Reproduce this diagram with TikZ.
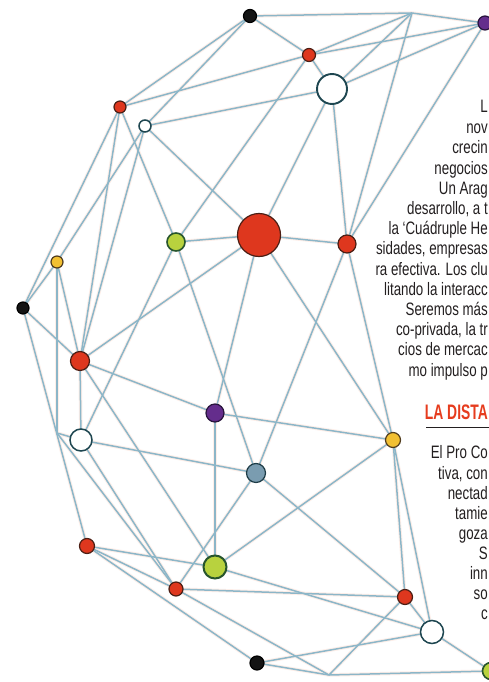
\documentclass[tikz,border=0pt]{standalone}
\usepackage{fontspec}
\newfontfamily\bodyfont{Liberation Sans}[FakeStretch=0.74]
\newfontfamily\headfont{Liberation Sans}[FakeStretch=0.66]
\pgfdeclarelayer{back}
\pgfdeclarelayer{bg}
\pgfsetlayers{back,bg,main}
\definecolor{edgecol}{RGB}{140,182,200}
\definecolor{halocol}{RGB}{253,238,232}
\definecolor{redfill}{RGB}{222,55,30}
\definecolor{redline}{RGB}{75,30,20}
\definecolor{grnfill}{RGB}{184,210,62}
\definecolor{grnline}{RGB}{40,85,45}
\definecolor{yelfill}{RGB}{242,192,50}
\definecolor{yelline}{RGB}{80,60,30}
\definecolor{purfill}{RGB}{100,45,140}
\definecolor{purline}{RGB}{40,20,60}
\definecolor{blufill}{RGB}{122,156,176}
\definecolor{bluline}{RGB}{30,60,70}
\definecolor{whtline}{RGB}{30,70,80}
\definecolor{txtcol}{RGB}{35,31,32}
\definecolor{headcol}{RGB}{230,60,30}
\tikzset{
  dot/.style={circle, inner sep=0pt, outer sep=0pt, line width=1.2pt},
  nred/.style={dot, fill=redfill, draw=redline},
  ngrn/.style={dot, fill=grnfill, draw=grnline, line width=1.6pt},
  nyel/.style={dot, fill=yelfill, draw=yelline},
  npur/.style={dot, fill=purfill, draw=purline},
  nblu/.style={dot, fill=blufill, draw=bluline},
  nwht/.style={dot, fill=white, draw=whtline, line width=1.5pt},
  nblk/.style={dot, fill=black!92, draw=black},
  edge/.style={draw=edgecol, line width=1.5pt},
  halo/.style={draw=halocol, line width=3.5pt},
  txt/.style={anchor=base east, inner sep=0pt, text=txtcol, font=\bodyfont\fontsize{18}{20}\selectfont},
  head/.style={anchor=base east, inner sep=0pt, text=headcol, font=\headfont\bfseries\fontsize{21}{22}\selectfont}
}
\begin{document}
\begin{tikzpicture}[x=1pt,y=-1pt]
\useasboundingbox (0,0) rectangle (489,682);
\begin{pgfonlayer}{back}
\fill[white] (0,0) rectangle (489,682);
\end{pgfonlayer}
% nodes
\node[nblk, minimum size=13pt] (n1) at (250,16) {};
\node[npur, minimum size=14pt] (n2) at (485,23) {};
\node[nred, minimum size=13pt] (n3) at (309,55) {};
\node[nwht, minimum size=30pt, line width=1.9pt] (n4) at (332,89) {};
\node[nred, minimum size=12pt] (n5) at (120,107) {};
\node[nwht, minimum size=12pt] (n6) at (145,126) {};
\node[nred, minimum size=43pt] (n7) at (259,235) {};
\node[ngrn, minimum size=18pt] (n8) at (176,242) {};
\node[nred, minimum size=18pt] (n9) at (347,244) {};
\node[nyel, minimum size=12pt] (n10) at (57,262) {};
\node[nblk, minimum size=12pt] (n11) at (23,308) {};
\node[nred, minimum size=19pt] (n12) at (80,361) {};
\node[npur, minimum size=18pt] (n13) at (215,413) {};
\node[nwht, minimum size=22pt] (n14) at (81,440) {};
\node[nyel, minimum size=15pt] (n15) at (393,440) {};
\node[nblu, minimum size=19pt] (n16) at (256,473) {};
\node[nred, minimum size=15pt] (n17) at (87,546) {};
\node[ngrn, minimum size=23pt, line width=2pt] (n18) at (215,567) {};
\node[nred, minimum size=14pt] (n19) at (176,589) {};
\node[nred, minimum size=15pt] (n20) at (405,597) {};
\node[nwht, minimum size=23pt] (n21) at (432,632) {};
\node[nblk, minimum size=14pt] (n22) at (257,663) {};
\node[ngrn, minimum size=17pt] (n23) at (491,671) {};
\coordinate (j1) at (412,13);
\coordinate (j2) at (329,675);
\coordinate (j3) at (57,433);
% connectors
\def\edgelist{n1/j1, j1/n2, n1/n3, n1/n5, n1/n6, n3/j1, n4/j1, n2/n3, n2/n4, n2/n9,
 j1/n9, n3/n4, n5/n3, n6/n4, n3/n8, n4/n7, n4/n9,
 n5/n11, n5/n12, n5/n8, n6/n10, n6/n12, n6/n7, n10/n11, n10/n12, n11/n12,
 n10/j3, n11/n17, j3/n19, j3/n14,
 n8/n7, n7/n9, n7/n12, n7/n13, n7/n15, n8/n14, n8/n16, n9/n16, n9/n15,
 n12/n13, n12/n14, n12/n18, n13/n15, n13/n18, n14/n16, n14/n19, n16/n19,
 n16/n20, n15/n18, n15/n20, n15/n21,
 n17/n18, n17/n19, n17/n22, n18/n21, n19/n20, n19/j2, n20/j2, n20/n21,
 n22/n21, n22/j2, j2/n23, n21/n23}
\begin{pgfonlayer}{bg}
\foreach \a/\b in \edgelist { \draw[halo] (\a) -- (\b); }
\foreach \a/\b in \edgelist { \draw[edge] (\a) -- (\b); }
\end{pgfonlayer}
% text column
\node[txt] (t0) at (488,113) {L};
\node[txt] (t1) at (488,133) {nov};
\node[txt] (t2) at (488,153) {crecin};
\node[txt] (t3) at (488,174) {negocios};
\node[txt] (t4) at (488,194) {Un Arag};
\node[txt] (t5) at (488,214) {desarrollo, a t};
\node[txt] (t6) at (488,234) {la ‘Cuádruple He};
\node[txt] (t7) at (488,254) {sidades, empresas};
\node[txt] (t8) at (488,275) {ra efectiva. Los clu};
\node[txt] (t9) at (488,295) {litando la interacc};
\node[txt] (t10) at (488,315) {Seremos más};
\node[txt] (t11) at (488,335) {co-privada, la tr};
\node[txt] (t12) at (488,355) {cios de mercac};
\node[txt] (t13) at (488,376) {mo impulso p};
\node[head] (h1) at (488,419) {LA DISTA};
\coordinate (r1) at (426,427);
\coordinate (r2) at (489,427);
\draw[txtcol, line width=1pt] (r1) -- (r2);
\node[txt] (u0) at (488,458) {El Pro Co};
\node[txt] (u1) at (488,479) {tiva, con};
\node[txt] (u2) at (488,499) {nectad};
\node[txt] (u3) at (488,519) {tamie};
\node[txt] (u4) at (488,539) {goza};
\node[txt] (u5) at (488,559) {S};
\node[txt] (u6) at (488,579) {inn};
\node[txt] (u7) at (488,599) {so};
\node[txt] (u8) at (488,619) {c};
\end{tikzpicture}
\end{document}
